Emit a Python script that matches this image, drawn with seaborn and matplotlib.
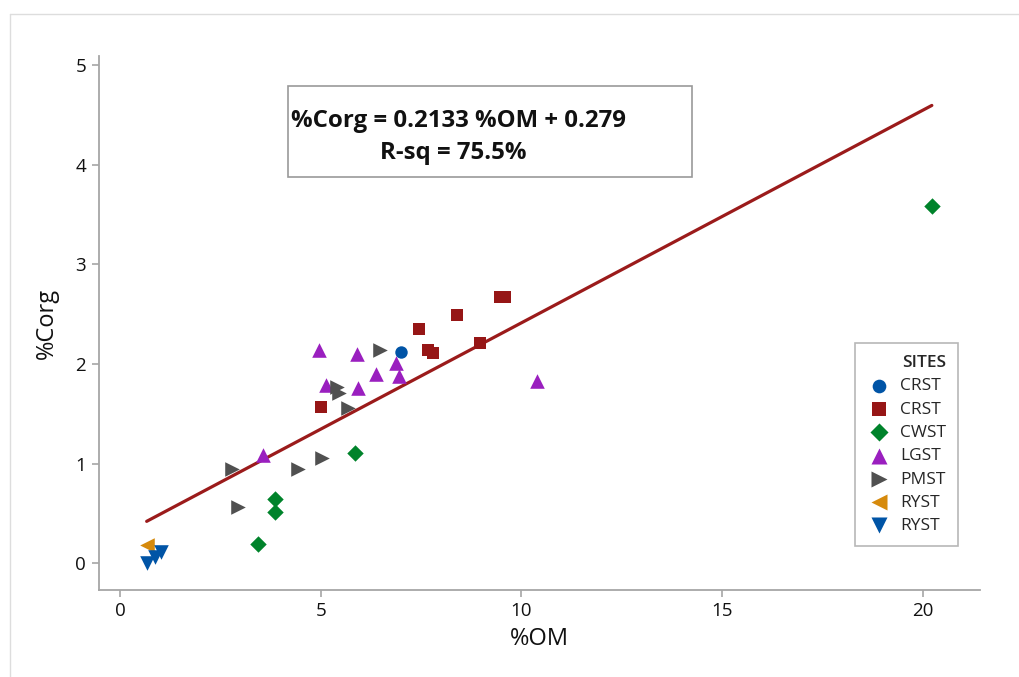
import matplotlib
matplotlib.use("Agg")
import matplotlib.pyplot as plt
import seaborn as sns
import numpy as np
import pandas as pd
from matplotlib.patches import Rectangle
from matplotlib.lines import Line2D

# ---- data ----
crst_circle_om = [7.00]
crst_circle_c = [2.12]

crst_square_om = [5.02, 7.44, 7.67, 7.79, 8.41, 8.98, 9.47, 9.60]
crst_square_c = [1.57, 2.35, 2.14, 2.11, 2.49, 2.21, 2.67, 2.67]

cwst_om = [3.43, 3.87, 3.87, 5.86, 20.23]
cwst_c = [0.19, 0.51, 0.65, 1.11, 3.58]

lgst_om = [3.56, 4.97, 5.13, 5.90, 5.94, 6.38, 6.87, 6.95, 10.38]
lgst_c = [1.09, 2.14, 1.79, 2.10, 1.76, 1.90, 2.01, 1.88, 1.83]

pmst_om = [2.78, 2.95, 4.44, 5.03, 5.42, 5.47, 5.69, 6.48]
pmst_c = [0.95, 0.56, 0.95, 1.06, 1.77, 1.71, 1.56, 2.14]

ryst_left_om = [0.67]
ryst_left_c = [0.18]

ryst_down_om = [0.665, 0.87, 1.02]
ryst_down_c = [0.00, 0.06, 0.11]

site_labels = ["CRST", "CRST", "CWST", "LGST", "PMST", "RYST", "RYST"]
slope = 0.2133
intercept = 0.279
rsq = 75.5

x_ticks = [0, 5, 10, 15, 20]
y_ticks = [0, 1, 2, 3, 4, 5]

# ---- style ----
sns.set_theme(style="white")
plt.rcParams["font.family"] = ["Open Sans", "DejaVu Sans"]

fig = plt.figure(figsize=(10.2, 6.77), dpi=100)
ax = fig.add_axes([98.7 / 1020, 87 / 677, (980 - 98.7) / 1020, (590 - 56) / 677])

groups = [
    (crst_circle_om, crst_circle_c, "o", "#0054A6", 80),
    (crst_square_om, crst_square_c, "s", "#961616", 80),
    (cwst_om, cwst_c, "D", "#00832B", 70),
    (lgst_om, lgst_c, "^", "#9A1FBF", 110),
    (pmst_om, pmst_c, ">", "#505050", 110),
    (ryst_left_om, ryst_left_c, "<", "#D68A0C", 110),
    (ryst_down_om, ryst_down_c, "v", "#0054A6", 110),
]

all_x = []
for (xs, ys, mk, col, sz), lab in zip(groups, site_labels):
    sns.scatterplot(x=xs, y=ys, marker=mk, color=col, s=sz, linewidth=0,
                    ax=ax, label=lab, zorder=3)
    all_x += xs

# regression line
xl = np.array([min(all_x), max(all_x)])
sns.lineplot(x=xl, y=slope * xl + intercept, color="#9B1B1B", linewidth=2.3,
             ax=ax, zorder=2, legend=False)

ax.set_xlim(-0.53, 21.43)
ax.set_ylim(-0.268, 5.09)
ax.set_xticks(x_ticks)
ax.set_yticks(y_ticks)
ax.set_xticklabels([str(t) for t in x_ticks])
ax.set_yticklabels([str(t) for t in y_ticks])

for s in ["top", "right"]:
    ax.spines[s].set_visible(False)
for s in ["left", "bottom"]:
    ax.spines[s].set_color("#a6a6a6")
    ax.spines[s].set_linewidth(1.3)
ax.tick_params(axis="both", which="major", direction="out", length=5,
               width=1.2, color="#a6a6a6", labelsize=13.5, labelcolor="#111111",
               pad=4, left=True, bottom=True)

ax.set_xlabel("%OM", fontsize=17, color="#111111", labelpad=5)
ax.set_ylabel("%Corg", fontsize=17, color="#111111", labelpad=12)

# legend
handles, labels = ax.get_legend_handles_labels()
leg = ax.legend(handles, labels, title="SITES", loc="upper left",
                bbox_to_anchor=((855 - 98.7) / (980 - 98.7), (590 - 343) / (590 - 56)),
                borderaxespad=0,
                frameon=True, fancybox=False, edgecolor="#a6a6a6",
                fontsize=12.5, title_fontsize=12.5, handletextpad=0.5,
                labelspacing=0.41, borderpad=0.7, handlelength=1.4,
                markerscale=1.1)
leg.get_frame().set_linewidth(1.2)
leg.get_title().set_fontweight("semibold")
leg._legend_box.align = "right"

# equation box
fig.patches.append(Rectangle((288 / 1020, 1 - 177 / 677), 404 / 1020, 91 / 677,
                             transform=fig.transFigure, fill=False,
                             edgecolor="#999999", linewidth=1.2))
fig.text(291 / 1020, 1 - 121 / 677,
         f"%Corg = {slope:.4f} %OM + {intercept:.3f}",
         fontsize=17.3, fontweight="bold", ha="left", va="center", color="#111111")
fig.text(453 / 1020, 1 - 153 / 677, f"R-sq = {rsq:.1f}%",
         fontsize=17.3, fontweight="bold", ha="center", va="center", color="#111111")

# outer light frame
fig.add_artist(Line2D([10 / 1020, 1.0], [1 - 14 / 677, 1 - 14 / 677],
                      transform=fig.transFigure, color="#dddddd", linewidth=1))
fig.add_artist(Line2D([10 / 1020, 10 / 1020], [0, 1 - 14 / 677],
                      transform=fig.transFigure, color="#dddddd", linewidth=1))

fig.savefig("out.png", dpi=100)
